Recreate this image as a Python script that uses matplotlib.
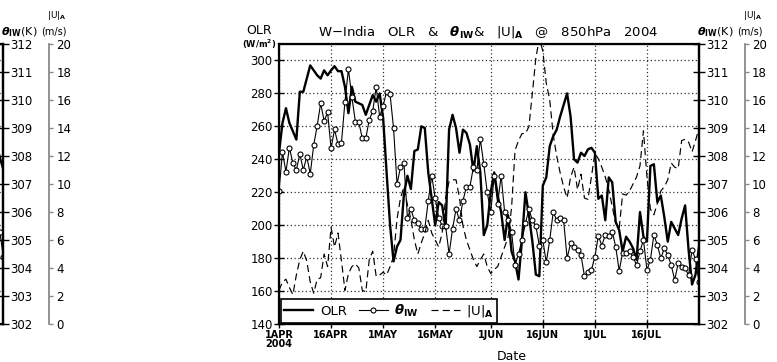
import matplotlib
matplotlib.use("Agg")
import matplotlib.pyplot as plt
import pandas as pd

plt.rcParams['font.family'] = ['DejaVu Sans']
plt.rcParams['mathtext.fontset'] = 'custom'
plt.rcParams['mathtext.rm'] = 'DejaVu Sans'
plt.rcParams['mathtext.it'] = 'DejaVu Sans:italic:bold'
plt.rcParams['mathtext.bf'] = 'DejaVu Sans:bold'

# ---- data: daily values, 1 Apr - 31 Jul 2004, W-India box ----
dates = pd.date_range('2004-04-01', '2004-07-31', freq='D')

olr = [244, 262, 271, 262, 257, 252, 281, 281, 289, 297,
       294, 291, 289, 294, 291, 294, 296.5, 293.5, 293.5, 284,
       268, 284, 275, 274, 273, 267, 273, 279, 275, 280,
       265, 232, 200, 178, 187, 191, 219, 230, 222, 245,
       246, 260, 259, 232, 216, 200, 214, 212, 198, 258,
       267, 259, 244, 258, 256, 249, 233, 248, 232, 194,
       200, 220, 232, 218, 208, 191, 206, 184, 178, 167,
       191, 220, 206, 190, 170, 169, 224, 229, 248, 254,
       258, 266, 273, 280, 266, 240, 238, 244, 242, 246,
       247, 244, 216, 218, 203, 229, 226, 202, 197, 184,
       193, 190, 186, 179, 208, 193, 190, 236, 237, 214,
       218, 205, 190, 202, 198, 194, 204, 212, 185, 164,
       170, 187]

theta_iw = [306.76, 308.13, 307.44, 308.3, 307.74, 307.5, 308.07, 307.5, 307.98, 307.36,
            308.39, 309.08, 309.88, 309.25, 309.56, 308.27, 308.95, 308.42, 308.48, 309.94,
            311.1, 310.1, 309.23, 309.2, 308.63, 308.63, 309.29, 309.6, 310.45, 309.4,
            309.8, 310.3, 310.2, 309.0, 307.0, 307.6, 307.74, 305.8, 306.1, 305.7,
            305.6, 305.4, 305.4, 306.4, 307.3, 306.5, 305.8, 305.5, 305.5, 304.5,
            305.4, 306.1, 305.7, 306.4, 306.9, 306.9, 307.6, 307.5, 308.6, 307.7,
            306.7, 306.0, 307.3, 306.3, 307.3, 306.0, 305.7, 305.3, 304.1, 304.5,
            305.0, 305.6, 306.1, 305.7, 305.5, 304.8, 305.0, 304.2, 305.0, 306.0,
            305.7, 305.8, 305.7, 304.35, 304.88, 304.76, 304.64, 304.46, 303.71, 303.85,
            303.93, 304.4, 305.15, 304.8, 305.18, 305.15, 305.3, 304.76, 303.9, 304.55,
            304.52, 304.6, 304.4, 304.1, 304.6, 305.0, 303.93, 304.29, 305.18, 304.82,
            304.35, 304.7, 304.46, 304.1, 303.57, 304.17, 304.05, 303.99, 303.75, 304.64,
            304.31, 303.5]

u_abs = [2.4, 3.0, 3.2, 2.6, 2.1, 3.5, 4.6, 5.2, 4.5, 3.0,
         2.2, 3.2, 3.3, 5.0, 4.1, 6.9, 5.5, 6.5, 4.5, 2.4,
         3.6, 4.1, 4.3, 4.0, 2.4, 2.3, 4.6, 5.2, 3.4, 3.5,
         3.7, 3.5, 4.1, 4.8, 7.5, 9.0, 9.8, 8.5, 7.5, 6.0,
         5.0, 5.8, 6.5, 7.4, 6.5, 6.0, 5.5, 6.5, 9.0, 10.2,
         10.3, 10.3, 9.0, 7.0, 6.0, 5.3, 4.6, 4.1, 4.6, 5.0,
         4.1, 3.6, 3.9, 4.1, 4.8, 5.5, 6.2, 8.3, 12.4, 13.1,
         13.6, 13.6, 14.1, 16.5, 19.0, 20.4, 19.5, 17.2, 16.0, 13.5,
         12.0, 10.8, 9.8, 9.0, 10.5, 11.2, 9.6, 10.7, 9.0, 8.9,
         10.5, 12.2, 11.8, 11.2, 10.5, 9.6, 8.4, 7.2, 6.8, 9.3,
         9.2, 9.5, 10.0, 10.5, 11.3, 13.8, 10.5, 8.2, 7.8, 8.6,
         9.5, 9.8, 10.3, 11.5, 11.2, 11.1, 13.1, 13.2, 13.0, 12.3,
         13.1, 14.0]

# last days of the neighbouring panel (only its right edge is in frame)
prev_dates = dates[-3:]
prev_olr = [250, 241, 234]
prev_theta = [305.6, 305.3, 304.4]

tick_dates = pd.to_datetime(['2004-04-01', '2004-04-16', '2004-05-01', '2004-05-16',
                             '2004-06-01', '2004-06-16', '2004-07-01', '2004-07-16'])
tick_labels = ['1APR\n2004', '16APR', '1MAY', '16MAY', '1JUN', '16JUN', '1JUL', '16JUL']
olr_ticks = [140, 160, 180, 200, 220, 240, 260, 280, 300]
theta_ticks = [302, 303, 304, 305, 306, 307, 308, 309, 310, 311, 312]
u_ticks = [0, 2, 4, 6, 8, 10, 12, 14, 16, 18, 20]

W, H = 777, 362
fig = plt.figure(figsize=(W / 100, H / 100), dpi=100)

AX_W, AX_H = 420, 280
AX_B = 38
U_OFFSET_PT = 46 * 72 / 100

OLR_STYLE = dict(color='black', linewidth=1.7)
THETA_STYLE = dict(color='black', linewidth=0.8, marker='o', markersize=3.6,
                   markerfacecolor='white', markeredgewidth=0.8)
U_STYLE = dict(color='black', linewidth=0.85, linestyle=(0, (6, 3.5)))


def build_panel(left_px, host_labels=True):
    ax = fig.add_axes([left_px / W, AX_B / H, AX_W / W, AX_H / H])
    ax.set_xlim(dates[0], dates[-1])
    ax.set_ylim(140, 310)
    ax.set_yticks(olr_ticks)
    ax.set_xticks(tick_dates)
    if host_labels:
        ax.set_xticklabels(tick_labels, fontsize=7, fontweight='bold', linespacing=0.9)
    ax.tick_params(axis='y', direction='inout', length=7, width=1, labelsize=8.5, pad=1,
                   labelleft=host_labels)
    ax.tick_params(axis='x', direction='inout', length=6, width=1, pad=1,
                   labelbottom=host_labels)
    ax.grid(True, linestyle=(0, (1, 2)), color='#333333', linewidth=0.9)
    for s in ax.spines.values():
        s.set_linewidth(1.6)

    axt = ax.twinx()
    axt.set_ylim(302, 312)
    axt.set_yticks(theta_ticks)
    axt.tick_params(axis='y', direction='inout', length=8, width=1, labelsize=8.5, pad=1)
    axt.spines['right'].set_linewidth(1.6)

    axu = ax.twinx()
    axu.set_ylim(0, 20)
    axu.set_yticks(u_ticks)
    axu.spines['right'].set_position(('outward', U_OFFSET_PT))
    axu.spines['right'].set_color('#8a8a8a')
    axu.spines['right'].set_linewidth(1.3)
    for side in ('left', 'top', 'bottom'):
        axu.spines[side].set_visible(False)
    axu.tick_params(axis='y', direction='out', length=3, width=1, color='#8a8a8a',
                    labelcolor='black', labelsize=8.5, pad=2)

    right_px = left_px + AX_W
    fig.text((right_px + 16) / W, (H - 32) / H, r'$\theta_{\mathbf{IW}}$(K)',
             fontsize=8, ha='center', va='center')
    fig.text((right_px + 54) / W, (H - 15) / H, r'$|\mathrm{U}|_{\mathbf{A}}$',
             fontsize=6.5, ha='center', va='center')
    fig.text((right_px + 51) / W, (H - 31) / H, '(m/s)',
             fontsize=7, ha='center', va='center')
    return ax, axt, axu


# neighbouring panel, mostly outside the figure on the left
axp, axpt, axpu = build_panel(3.3 - AX_W, host_labels=False)
axp.plot(prev_dates, prev_olr, **OLR_STYLE)
axpt.plot(prev_dates, prev_theta, **THETA_STYLE)

# main panel
ax, axt, axu = build_panel(279)
l1, = ax.plot(dates, olr, label='OLR', **OLR_STYLE)
l2, = axt.plot(dates, theta_iw, label=r'$\theta_{\mathbf{IW}}$', **THETA_STYLE)
l3, = axu.plot(dates, u_abs, label=r'$|\mathrm{U}|_{\mathbf{A}}$', **U_STYLE)

leg = axu.legend(handles=[l1, l2, l3], loc='lower left', ncol=3,
                 bbox_to_anchor=(2 / AX_W, 1.5 / AX_H), borderaxespad=0,
                 fontsize=9.5, handlelength=2.2, handletextpad=0.5,
                 columnspacing=0.9, borderpad=0.25, fancybox=False,
                 framealpha=1, edgecolor='black')
leg.get_frame().set_linewidth(1.2)

fig.text(488.5 / W, (H - 32) / H,
         r'W$-$India   OLR   &   $\theta_{\mathbf{IW}}$&   $|\mathrm{U}|_{\mathbf{A}}$   @   850hPa   2004',
         fontsize=9.5, ha='center', va='center')
fig.text(259 / W, (H - 30) / H, 'OLR', fontsize=9, ha='center', va='center')
fig.text(259 / W, (H - 44) / H, r'(W/m$^\mathbf{2}$)', fontsize=6, fontweight='bold',
         ha='center', va='center')
fig.text(512 / W, (H - 356) / H, 'Date', fontsize=9, ha='center', va='center')

fig.savefig('out.png', dpi=100)
